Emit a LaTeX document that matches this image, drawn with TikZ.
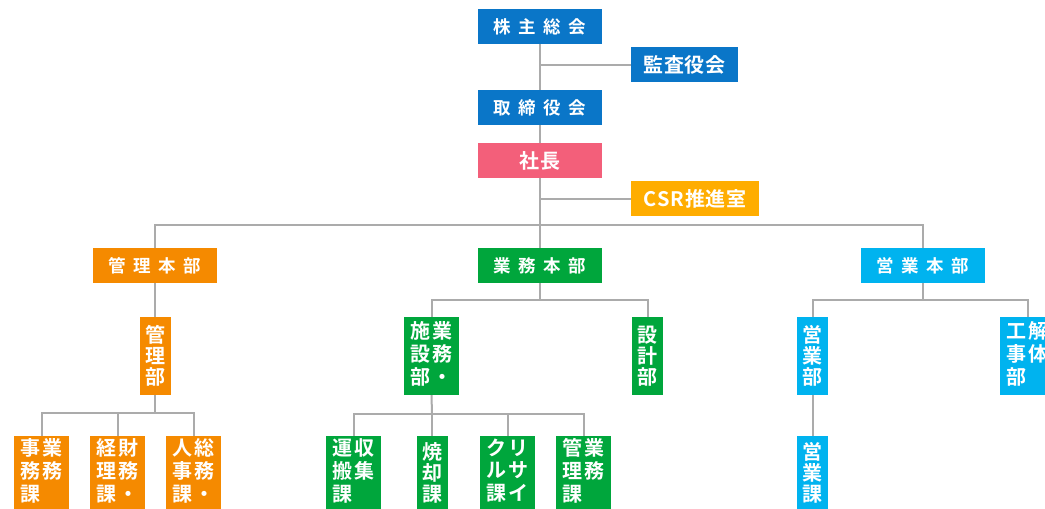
\documentclass[tikz,border=0pt]{standalone}
\usepackage{fontspec}
\newfontfamily\jp{Noto Sans CJK JP}[BoldFont={Noto Sans CJK JP Bold}]
\definecolor{cblue}{HTML}{0A76C8}
\definecolor{clblue}{HTML}{00B3EF}
\definecolor{corange}{HTML}{F58A00}
\definecolor{cgreen}{HTML}{00A63C}
\definecolor{cpink}{HTML}{F35F7A}
\definecolor{cyellow}{HTML}{FFAD00}
\definecolor{cline}{HTML}{ABABAB}
\newcommand\ga{\hspace{7.5pt}}
\newcommand\gb{\hspace{0.8pt}}
\tikzset{
  box/.style={inner sep=0pt, text=white, font=\jp\bfseries\fontsize{20}{21}\selectfont, align=center},
  hbox/.style={box, minimum width=124pt, minimum height=35pt},
  sbox/.style={hbox, font=\jp\bfseries\fontsize{17.5}{21}\selectfont},
  vbox/.style={box, minimum width=31pt, minimum height=78pt},
  wbox/.style={box, minimum width=55pt, minimum height=78pt},
  vlow/.style={box, minimum width=31pt, minimum height=74pt},
  wlow/.style={box, minimum width=55pt, minimum height=74pt},
  conn/.style={draw=cline, line width=2pt},
}
\newcommand\tc[1]{\begin{tabular}{@{}c@{\hspace{2.5pt}}c@{}}#1\end{tabular}}
\begin{document}
\begin{tikzpicture}[x=1pt,y=-1pt]
\useasboundingbox (0,0) rectangle (1045,509);
% coordinates for buses
\coordinate (b1) at (540,225);
\coordinate (b2) at (155,413);
\coordinate (b3) at (540,300);
\coordinate (b4) at (432,414);
\coordinate (b5) at (923,300);
% connectors
\path[conn] (540,26.5) -- (540,107.5);
\path[conn] (540,107.5) -- (540,265.5);
% nodes
\node[sbox, fill=cblue] (kabu) at (540,26.5) {株\ga 主\ga 総\ga 会};
\node[box, fill=cblue, minimum width=107pt, minimum height=35pt] (kansa) at (684.5,64.5) {監\gb 査\gb 役\gb 会};
\node[sbox, fill=cblue] (tori) at (540,107.5) {取\ga 締\ga 役\ga 会};
\node[hbox, fill=cpink] (shacho) at (540,160.5) {社\gb 長};
\node[box, fill=cyellow, minimum width=128pt, minimum height=35pt] (csr) at (695,198.5) {C\gb S\gb R\gb 推\gb 進\gb 室};
\node[sbox, fill=corange] (kanrihon) at (155,265.5) {管\ga 理\ga 本\ga 部};
\node[sbox, fill=cgreen] (gyomuhon) at (540,265.5) {業\ga 務\ga 本\ga 部};
\node[sbox, fill=clblue] (eigyohon) at (923,265.5) {営\ga 業\ga 本\ga 部};
\node[vbox, fill=corange] (kanribu) at (155.5,356) {管\\理\\部};
\node[wbox, fill=cgreen] (shisetsu) at (431.5,356) {\tc{施&業\\設&務\\部&・}};
\node[vbox, fill=cgreen] (sekkei) at (647.5,356) {設\\計\\部};
\node[vbox, fill=clblue] (eigyobu) at (812.5,356) {営\\業\\部};
\node[wbox, fill=clblue] (kaitai) at (1027.5,356) {\tc{工&解\\事&体\\部&}};
\node[wlow, fill=corange] (jigyo) at (41.5,473) {\tc{事&業\\務&務\\課&}};
\node[wlow, fill=corange] (zaimu) at (117.5,473) {\tc{経&財\\理&務\\課&・}};
\node[wlow, fill=corange] (jinji) at (193.5,473) {\tc{人&総\\事&務\\課&・}};
\node[wlow, fill=cgreen] (shushu) at (353.5,473) {\tc{運&収\\搬&集\\課&}};
\node[vlow, fill=cgreen] (shokyaku) at (432.5,473) {焼\\却\\課};
\node[wlow, fill=cgreen] (risa) at (507.5,473) {\tc{ク&リ\\ル&サ\\課&イ}};
\node[wlow, fill=cgreen] (gyokan) at (583.5,473) {\tc{管&業\\理&務\\課&}};
\node[vlow, fill=clblue] (eigyoka) at (812.5,473) {営\\業\\課};
% connectors
\path[conn] (kansa.west) -- (kansa.west -| kabu.south);
\path[conn] (csr.west) -- (csr.west -| shacho.south);
\path[conn] (shacho.south) -- (b1);
\path[conn] (kanrihon.north) |- (b1) -| (eigyohon.north);
\path[conn] (b1) -- (gyomuhon.north);
\path[conn] (kanrihon.south) -- (kanribu.north -| kanrihon.south);
\path[conn] (kanribu.south -| b2) -- (b2);
\path[conn] (jigyo.north) |- (b2) -| (jinji.north);
\path[conn] (zaimu.north) -- (zaimu.north |- b2);
\path[conn] (gyomuhon.south) -- (b3);
\path[conn] (shisetsu.north) |- (b3) -| (sekkei.north);
\path[conn] (shisetsu.south) -- (b4);
\path[conn] (shushu.north) |- (b4) -| (gyokan.north);
\path[conn] (b4) -- (shokyaku.north -| b4);
\path[conn] (risa.north) -- (risa.north |- b4);
\path[conn] (eigyohon.south) -- (b5);
\path[conn] (eigyobu.north) |- (b5) -| (kaitai.north);
\path[conn] (eigyobu.south) -- (eigyoka.north);
\end{tikzpicture}
\end{document}
